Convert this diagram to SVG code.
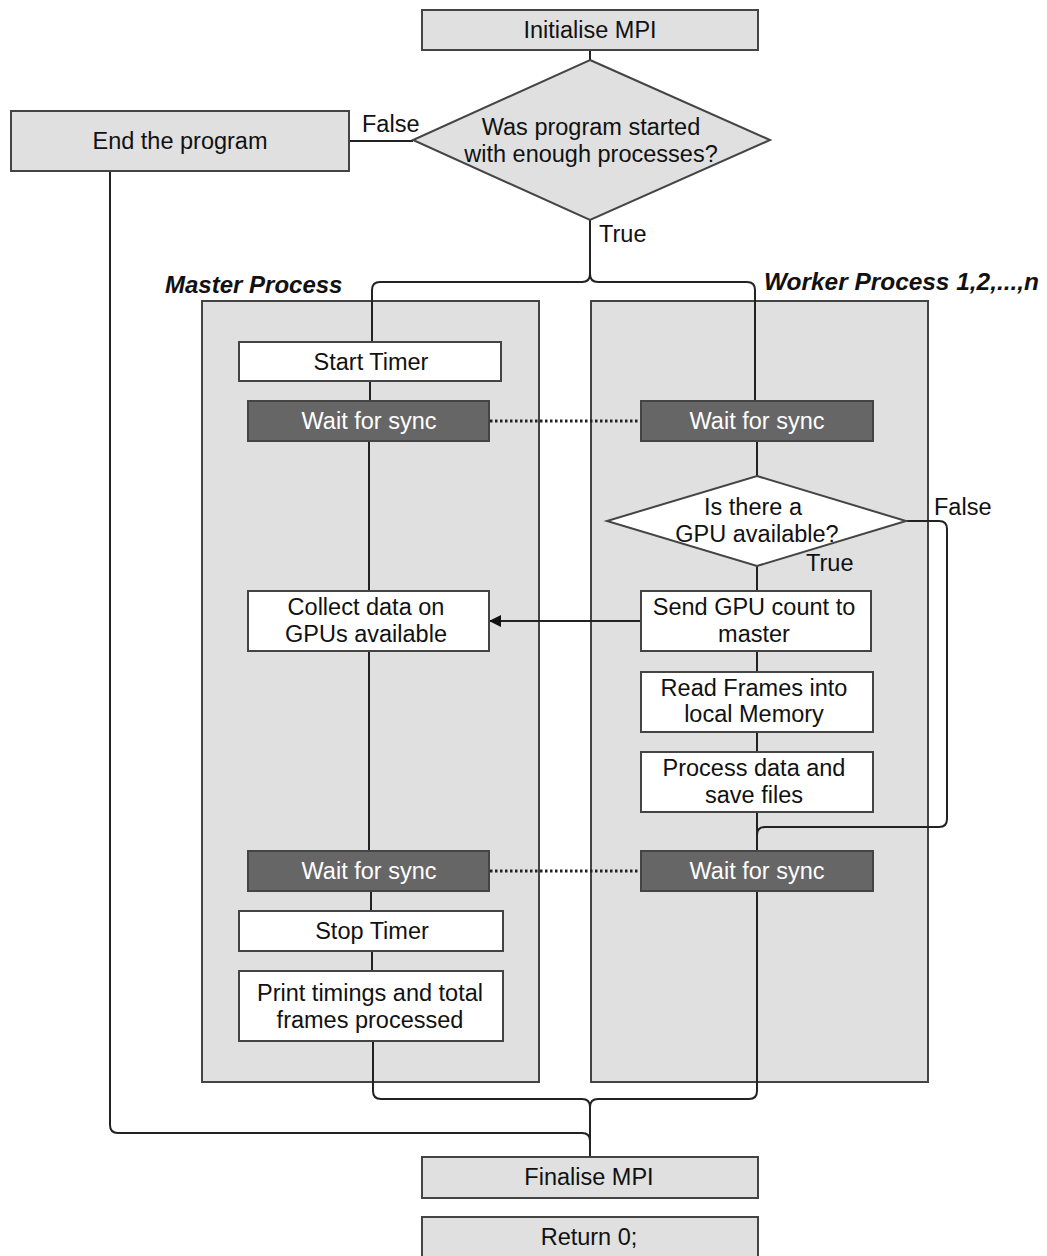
<svg xmlns="http://www.w3.org/2000/svg" width="1047" height="1256" viewBox="0 0 1047 1256">
  <style>
    text { font-family: "Liberation Sans", Arial, sans-serif; font-size: 23.5px; fill: #111; }
    .c { text-anchor: middle; }
    .w { fill: #fff; }
    .hdr { font-weight: bold; font-style: italic; font-size: 24px; }
    .gray { fill: #e0e0e0; stroke: #444; stroke-width: 2; }
    .white { fill: #fff; stroke: #444; stroke-width: 2; }
    .dark { fill: #666; stroke: #444; stroke-width: 2; }
    .panel { fill: #e0e0e0; stroke: #444; stroke-width: 2; }
    .line { fill: none; stroke: #222; stroke-width: 2; }
    .dot { fill: none; stroke: #222; stroke-width: 3; stroke-dasharray: 2.5 2.5; }
  </style>
  <defs>
    <marker id="arrow" markerWidth="12" markerHeight="12" refX="11" refY="6" orient="auto" markerUnits="userSpaceOnUse">
      <path d="M0,0 L12,6 L0,12 Z" fill="#111"/>
    </marker>
  </defs>

  <rect width="1047" height="1256" fill="#fff"/>

  <!-- swimlane panels -->
  <g id="master-panel">
    <rect class="panel" x="202" y="301" width="337" height="781"/>
    <text class="hdr" x="165" y="293">Master Process</text>
  </g>
  <g id="worker-panel">
    <rect class="panel" x="591" y="301" width="337" height="781"/>
    <text class="hdr" x="764" y="290" textLength="275" lengthAdjust="spacingAndGlyphs">Worker Process 1,2,...,n</text>
  </g>

  <!-- connectors -->
  <g id="connectors">
    <!-- init to decision -->
    <line class="line" x1="590" y1="50" x2="590" y2="60"/>
    <!-- False branch -->
    <line class="line" x1="349" y1="141" x2="413" y2="141"/>
    <text x="362" y="132">False</text>
    <!-- True branch split -->
    <path class="line" d="M590,220 V274 Q590,282 582,282 H380 Q372,282 372,290 V342"/>
    <path class="line" d="M590,274 Q590,282 598,282 H747 Q755,282 755,290 V401"/>
    <text x="599" y="242">True</text>

    <!-- master column -->
    <line class="line" x1="370" y1="381" x2="370" y2="401"/>
    <line class="line" x1="369" y1="441" x2="369" y2="591"/>
    <line class="line" x1="369" y1="651" x2="369" y2="851"/>
    <line class="line" x1="371" y1="891" x2="371" y2="911"/>
    <line class="line" x1="372" y1="951" x2="372" y2="971"/>
    <path class="line" d="M373,1041 V1091 Q373,1099 381,1099 H582 Q590,1099 590,1107"/>

    <!-- worker column -->
    <line class="line" x1="757" y1="441" x2="757" y2="476"/>
    <line class="line" x1="757" y1="566" x2="757" y2="591"/>
    <line class="line" x1="757" y1="651" x2="757" y2="672"/>
    <line class="line" x1="757" y1="732" x2="757" y2="752"/>
    <line class="line" x1="757" y1="812" x2="757" y2="851"/>
    <path class="line" d="M906,521 H939 Q947,521 947,529 V819 Q947,827 939,827 H765 Q757,827 757,835"/>
    <text x="934" y="515">False</text>
    <text x="806" y="571">True</text>
    <path class="line" d="M757,891 V1091 Q757,1099 749,1099 H598 Q590,1099 590,1107 V1157"/>

    <!-- end of program to finalise -->
    <path class="line" d="M110,171 V1125 Q110,1133 118,1133 H582 Q590,1133 590,1141"/>

    <!-- sync and messages -->
    <line class="dot" x1="490" y1="421" x2="641" y2="421"/>
    <line class="dot" x1="490" y1="871" x2="641" y2="871"/>
    <line class="line" x1="641" y1="621" x2="490" y2="621" marker-end="url(#arrow)"/>
  </g>

  <!-- nodes -->
  <g id="init-mpi">
    <rect class="gray" x="422" y="10" width="336" height="40"/>
    <text class="c" x="590" y="38">Initialise MPI</text>
  </g>
  <g id="enough-processes">
    <polygon class="gray" points="590,60 770,140 590,220 413,140"/>
    <text class="c" x="591" y="135">Was program started</text>
    <text class="c" x="591" y="162">with enough processes?</text>
  </g>
  <g id="end-program">
    <rect class="gray" x="11" y="111" width="338" height="60"/>
    <text class="c" x="180" y="149">End the program</text>
  </g>

  <g id="start-timer">
    <rect class="white" x="239" y="342" width="262" height="39"/>
    <text class="c" x="371" y="370">Start Timer</text>
  </g>
  <g id="master-sync-1">
    <rect class="dark" x="248" y="401" width="241" height="40"/>
    <text class="c w" x="369" y="429">Wait for sync</text>
  </g>
  <g id="collect-data">
    <rect class="white" x="248" y="591" width="241" height="60"/>
    <text class="c" x="366" y="615">Collect data on</text>
    <text class="c" x="366" y="642">GPUs available</text>
  </g>
  <g id="master-sync-2">
    <rect class="dark" x="248" y="851" width="241" height="40"/>
    <text class="c w" x="369" y="879">Wait for sync</text>
  </g>
  <g id="stop-timer">
    <rect class="white" x="239" y="911" width="264" height="40"/>
    <text class="c" x="372" y="939">Stop Timer</text>
  </g>
  <g id="print-timings">
    <rect class="white" x="239" y="971" width="264" height="70"/>
    <text class="c" x="370" y="1001">Print timings and total</text>
    <text class="c" x="370" y="1028">frames processed</text>
  </g>

  <g id="worker-sync-1">
    <rect class="dark" x="641" y="401" width="232" height="40"/>
    <text class="c w" x="757" y="429">Wait for sync</text>
  </g>
  <g id="gpu-available">
    <polygon class="white" points="757,476 906,521 757,566 607,521"/>
    <text class="c" x="753" y="515">Is there a</text>
    <text class="c" x="757" y="542">GPU available?</text>
  </g>
  <g id="send-gpu-count">
    <rect class="white" x="641" y="591" width="230" height="60"/>
    <text class="c" x="754" y="615">Send GPU count to</text>
    <text class="c" x="754" y="642">master</text>
  </g>
  <g id="read-frames">
    <rect class="white" x="641" y="672" width="232" height="60"/>
    <text class="c" x="754" y="696">Read Frames into</text>
    <text class="c" x="754" y="722">local Memory</text>
  </g>
  <g id="process-data">
    <rect class="white" x="641" y="752" width="232" height="60"/>
    <text class="c" x="754" y="776">Process data and</text>
    <text class="c" x="754" y="803">save files</text>
  </g>
  <g id="worker-sync-2">
    <rect class="dark" x="641" y="851" width="232" height="40"/>
    <text class="c w" x="757" y="879">Wait for sync</text>
  </g>

  <g id="finalise-mpi">
    <rect class="gray" x="422" y="1157" width="336" height="41"/>
    <text class="c" x="589" y="1185">Finalise MPI</text>
  </g>
  <g id="return-zero">
    <rect class="gray" x="422" y="1217" width="336" height="42"/>
    <text class="c" x="589" y="1245">Return 0;</text>
  </g>
</svg>
